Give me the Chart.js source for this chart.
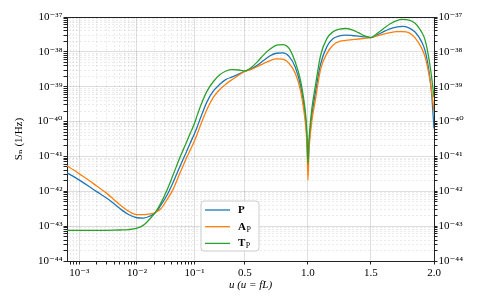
<!DOCTYPE html>
<html>
<head>
<meta charset="utf-8">
<script src="https://cdn.jsdelivr.net/npm/chart.js@4.4.1/dist/chart.umd.min.js"></script>
<style>html,body{margin:0;padding:0;background:#fff}canvas{display:block}</style>
</head>
<body>
<canvas id="c" width="478" height="306"></canvas>
<script>
// ---------------- data ----------------
const U = [6.1e-4, 8e-4, 1e-3, 1.5e-3, 2e-3, 3e-3, 4e-3, 5e-3, 7e-3, 1e-2,
  1.3e-2, 1.7e-2, 2.1e-2, 2.6e-2, 3.3e-2, 4.2e-2, 5.5e-2, 7e-2, 8.5e-2, 0.1,
  0.12, 0.15, 0.2, 0.25, 0.3, 0.35, 0.4, 0.45, 0.5, 0.55,
  0.6, 0.65, 0.7, 0.75, 0.8, 0.85, 0.9, 0.94, 0.97, 0.985,
  0.993, 1.0, 1.007, 1.015, 1.03, 1.06, 1.1, 1.15, 1.2, 1.25,
  1.3, 1.35, 1.4, 1.45, 1.5, 1.55, 1.6, 1.65, 1.7, 1.75,
  1.8, 1.85, 1.9, 1.93, 1.96, 1.98, 2.0];

const S_P = [3.39e-42, 2.63e-42, 2.09e-42, 1.35e-42, 9.77e-43, 6.31e-43, 4.37e-43, 3.24e-43, 2.19e-43, 1.74e-43,
  1.70e-43, 1.95e-43, 2.45e-43, 3.98e-43, 7.59e-43, 1.74e-42, 4.90e-42, 1.20e-41, 2.51e-41, 4.57e-41,
  6.92e-41, 1.35e-40, 3.80e-40, 7.59e-40, 1.17e-39, 1.62e-39, 1.91e-39, 2.29e-39, 2.82e-39, 3.24e-39,
  4.17e-39, 5.75e-39, 7.76e-39, 9.12e-39, 9.33e-39, 7.41e-39, 3.55e-39, 1.12e-39, 2.51e-40, 7.94e-41,
  2.51e-41, 5.01e-42, 1.78e-41, 4.47e-41, 1.41e-40, 7.08e-40, 4.47e-39, 1.41e-38, 2.40e-38, 2.88e-38,
  3.02e-38, 2.95e-38, 2.82e-38, 2.69e-38, 2.57e-38, 3.09e-38, 3.80e-38, 4.57e-38, 5.13e-38, 5.37e-38,
  4.90e-38, 3.72e-38, 2.00e-38, 1.07e-38, 2.82e-39, 7.08e-40, 6.31e-41];

const S_AP = [5.37e-42, 4.07e-42, 3.16e-42, 2.00e-42, 1.41e-42, 8.71e-43, 5.75e-43, 4.17e-43, 2.75e-43, 2.14e-43,
  2.14e-43, 2.24e-43, 2.51e-43, 3.16e-43, 5.62e-43, 1.10e-42, 3.16e-42, 7.94e-42, 1.58e-41, 2.82e-41,
  4.27e-41, 8.32e-41, 2.29e-40, 5.01e-40, 8.32e-40, 1.20e-39, 1.62e-39, 2.14e-39, 2.75e-39, 3.16e-39,
  3.80e-39, 4.68e-39, 5.62e-39, 6.31e-39, 6.17e-39, 4.68e-39, 2.40e-39, 7.94e-40, 1.78e-40, 5.62e-41,
  1.78e-41, 2.09e-42, 1.26e-41, 3.16e-41, 1.00e-40, 4.47e-40, 3.16e-39, 8.91e-39, 1.58e-38, 2.00e-38,
  2.14e-38, 2.24e-38, 2.34e-38, 2.45e-38, 2.57e-38, 2.88e-38, 3.24e-38, 3.55e-38, 3.80e-38, 3.80e-38,
  3.55e-38, 2.51e-38, 1.32e-38, 7.08e-39, 2.24e-39, 7.94e-40, 2.00e-40];

const S_TP = [7.59e-44, 7.59e-44, 7.59e-44, 7.59e-44, 7.59e-44, 7.59e-44, 7.67e-44, 7.76e-44, 7.94e-44, 8.71e-44,
  1.07e-43, 1.66e-43, 2.51e-43, 4.57e-43, 1.05e-42, 2.82e-42, 8.91e-42, 2.24e-41, 4.79e-41, 8.91e-41,
  1.48e-40, 2.95e-40, 7.59e-40, 1.41e-39, 2.19e-39, 2.82e-39, 3.09e-39, 3.02e-39, 2.82e-39, 3.55e-39,
  5.25e-39, 8.32e-39, 1.20e-38, 1.55e-38, 1.62e-38, 1.26e-38, 5.01e-39, 1.58e-39, 3.55e-40, 1.12e-40,
  3.55e-41, 6.03e-42, 2.51e-41, 6.31e-41, 2.24e-40, 1.12e-39, 7.94e-39, 2.40e-38, 3.80e-38, 4.47e-38,
  4.68e-38, 4.27e-38, 3.55e-38, 2.88e-38, 2.57e-38, 3.39e-38, 4.68e-38, 6.31e-38, 7.76e-38, 8.51e-38,
  8.13e-38, 6.61e-38, 3.80e-38, 2.14e-38, 6.31e-39, 2.00e-39, 5.01e-40];

const SERIES_MAIN = ['P', 'A', 'T'];
const SERIES_SUB = ['', 'P', 'P'];

const X_MAJOR = [1e-3, 1e-2, 0.1, 0.5, 1.0, 1.5, 2.0];
const X_MAJOR_LABELS = ['10⁻³', '10⁻²', '10⁻¹', '0.5', '1.0', '1.5', '2.0'];
const X_MINOR = [7e-4, 8e-4, 9e-4, 2e-3, 3e-3, 4e-3, 5e-3, 6e-3, 7e-3, 8e-3, 9e-3,
  2e-2, 3e-2, 4e-2, 5e-2, 6e-2, 7e-2, 8e-2, 9e-2];
const X_MIN = 6.1e-4, X_MAX = 2.0;
const Y_EXPONENTS = [-44, -43, -42, -41, -40, -39, -38, -37];
const Y_MANTISSAS = [1, 2, 3, 4, 5, 6, 7, 8, 9];
const Y_MIN = 1e-44, Y_MAX = 1e-37;

const X_TITLE = 'u (u = fL)';
const Y_TITLE = 'Sₙ (1/Hz)';

// ---------------- styling ----------------
const FONT = '"Liberation Serif", "DejaVu Serif", serif';
const COLORS = ['#1f77b4', '#ff7f0e', '#2ca02c'];
const GRID_MAJOR = 'rgba(0,0,0,0.13)';
const GRID_MINOR = 'rgba(0,0,0,0.08)';
const AXIS = '#222';

const SUP = {'-':'⁻','0':'⁰','1':'¹','2':'²','3':'³','4':'⁴','5':'⁵','6':'⁶','7':'⁷','8':'⁸','9':'⁹'};
const sup = s => String(s).split('').map(c => SUP[c] || c).join('');

// hybrid scale: logarithmic below 0.1, linear above
const U_BREAK = 0.1, DEC_WIDTH = 0.457;
function uToS(u) { return u >= U_BREAK ? u : U_BREAK + (Math.log10(u) - Math.log10(U_BREAK)) * DEC_WIDTH; }
function sToU(s) { return s >= U_BREAK ? s : Math.pow(10, Math.log10(U_BREAK) + (s - U_BREAK) / DEC_WIDTH); }

class LogLinScale extends Chart.Scale {
  determineDataLimits() {
    this.min = this.options.min;
    this.max = this.options.max;
  }
  buildTicks() {
    const t = [];
    X_MINOR.forEach(v => t.push({value: v, major: false}));
    X_MAJOR.forEach(v => t.push({value: v, major: true}));
    t.sort((a, b) => a.value - b.value);
    return t.filter(k => k.value >= this.min && k.value <= this.max);
  }
  configure() {
    super.configure();
    this._s0 = uToS(this.min);
    this._s1 = uToS(this.max);
  }
  getLabelForValue(v) { return String(v); }
  getPixelForValue(v) {
    return this.getPixelForDecimal((uToS(v) - this._s0) / (this._s1 - this._s0));
  }
  getValueForPixel(p) {
    return sToU(this._s0 + this.getDecimalForPixel(p) * (this._s1 - this._s0));
  }
}
LogLinScale.id = 'loglin';
LogLinScale.defaults = {};
Chart.register(LogLinScale);

function yTicks(scale) {
  const t = [];
  Y_EXPONENTS.forEach(e => Y_MANTISSAS.forEach(m => {
    const v = Number(m + 'e' + e);
    if (v >= Y_MIN && v <= Y_MAX * 1.0001) t.push({value: v, major: m === 1});
  }));
  scale.ticks = t;
}
const yLabel = (v, i, ticks) => ticks[i] && ticks[i].major ? '10' + sup(Math.round(Math.log10(v))) : '';
const xLabel = (v) => { const i = X_MAJOR.indexOf(v); return i >= 0 ? X_MAJOR_LABELS[i] : ''; };
const gridColor = ctx => (ctx.tick && !ctx.tick.major) ? GRID_MINOR : GRID_MAJOR;
const gridDash = ctx => (ctx.tick && !ctx.tick.major) ? [2, 2] : [];

const makeDs = (i, data, order) => ({
  label: SERIES_MAIN[i] + SERIES_SUB[i],
  data: U.map((u, k) => ({x: u, y: data[k]})),
  borderColor: COLORS[i], backgroundColor: COLORS[i],
  borderWidth: 1.3, pointRadius: 0, fill: false,
  cubicInterpolationMode: 'monotone', order
});

const framePlugin = {
  id: 'frameAndLegend',
  afterDraw(chart) {
    const ctx = chart.ctx, a = chart.chartArea;
    ctx.save();
    // top spine
    ctx.strokeStyle = AXIS; ctx.lineWidth = 1;
    ctx.beginPath();
    const ty = Math.round(a.top) + 0.5;
    ctx.moveTo(a.left, ty); ctx.lineTo(a.right, ty);
    ctx.stroke();
    // legend box
    const x0 = a.left + 134, y0 = a.top + 184, w = 58, h = 50, r = 3;
    ctx.beginPath();
    ctx.moveTo(x0 + r, y0);
    ctx.lineTo(x0 + w - r, y0); ctx.arcTo(x0 + w, y0, x0 + w, y0 + r, r);
    ctx.lineTo(x0 + w, y0 + h - r); ctx.arcTo(x0 + w, y0 + h, x0 + w - r, y0 + h, r);
    ctx.lineTo(x0 + r, y0 + h); ctx.arcTo(x0, y0 + h, x0, y0 + h - r, r);
    ctx.lineTo(x0, y0 + r); ctx.arcTo(x0, y0, x0 + r, y0, r);
    ctx.closePath();
    ctx.fillStyle = 'rgba(255,255,255,0.85)';
    ctx.fill();
    ctx.strokeStyle = '#cccccc'; ctx.lineWidth = 1;
    ctx.stroke();
    for (let i = 0; i < SERIES_MAIN.length; i++) {
      const ly = y0 + 9 + i * 16.7;
      ctx.strokeStyle = COLORS[i]; ctx.lineWidth = 1.3;
      ctx.beginPath(); ctx.moveTo(x0 + 4, ly); ctx.lineTo(x0 + 29, ly); ctx.stroke();
      ctx.fillStyle = '#000';
      ctx.textBaseline = 'middle'; ctx.textAlign = 'left';
      ctx.font = 'bold 11px ' + FONT;
      const tx = x0 + 37;
      ctx.fillText(SERIES_MAIN[i], tx, ly);
      if (SERIES_SUB[i]) {
        const w1 = ctx.measureText(SERIES_MAIN[i]).width;
        ctx.font = '8px ' + FONT;
        ctx.fillText(SERIES_SUB[i], tx + w1 + 0.5, ly + 3);
      }
    }
    ctx.restore();
  }
};

new Chart(document.getElementById('c'), {
  type: 'line',
  data: { datasets: [makeDs(0, S_P, 2), makeDs(1, S_AP, 1), makeDs(2, S_TP, 0)] },
  options: {
    responsive: false, animation: false, devicePixelRatio: 1, events: [],
    layout: { padding: { top: 17, left: 0, right: 0, bottom: 0 } },
    plugins: { legend: { display: false }, tooltip: { enabled: false } },
    scales: {
      x: {
        type: 'loglin', position: 'bottom', min: X_MIN, max: X_MAX,
        afterFit: s => { s.height = 45; },
        grid: { color: gridColor, lineWidth: 1, tickColor: AXIS, tickLength: 3.5, drawTicks: true },
        border: { color: AXIS, width: 1, dash: gridDash },
        ticks: { autoSkip: false, maxRotation: 0, minRotation: 0, padding: 2, color: '#000',
                 font: { family: FONT, size: 11 }, callback: xLabel },
        title: { display: true, text: X_TITLE, color: '#000',
                 font: { family: FONT, size: 11, style: 'italic' }, padding: { top: 0, bottom: 14 } }
      },
      y: {
        type: 'logarithmic', position: 'left', min: Y_MIN, max: Y_MAX,
        afterBuildTicks: yTicks,
        afterFit: s => { s.width = 67; },
        grid: { color: gridColor, lineWidth: 1, tickColor: AXIS, tickLength: 3.5, drawTicks: true },
        border: { color: AXIS, width: 1, dash: gridDash },
        ticks: { autoSkip: false, padding: 1, color: '#000', font: { family: FONT, size: 11 }, callback: yLabel },
        title: { display: true, text: Y_TITLE, color: '#000',
                 font: { family: FONT, size: 11 }, padding: { top: 13, bottom: 0 } }
      },
      y2: {
        type: 'logarithmic', position: 'right', min: Y_MIN, max: Y_MAX,
        afterBuildTicks: yTicks,
        afterFit: s => { s.width = 44; },
        grid: { drawOnChartArea: false, tickColor: AXIS, tickLength: 3.5, drawTicks: true },
        border: { color: AXIS, width: 1 },
        ticks: { autoSkip: false, padding: 1, color: '#000', font: { family: FONT, size: 11 }, callback: yLabel }
      }
    }
  },
  plugins: [framePlugin]
});
</script>
</body>
</html>
